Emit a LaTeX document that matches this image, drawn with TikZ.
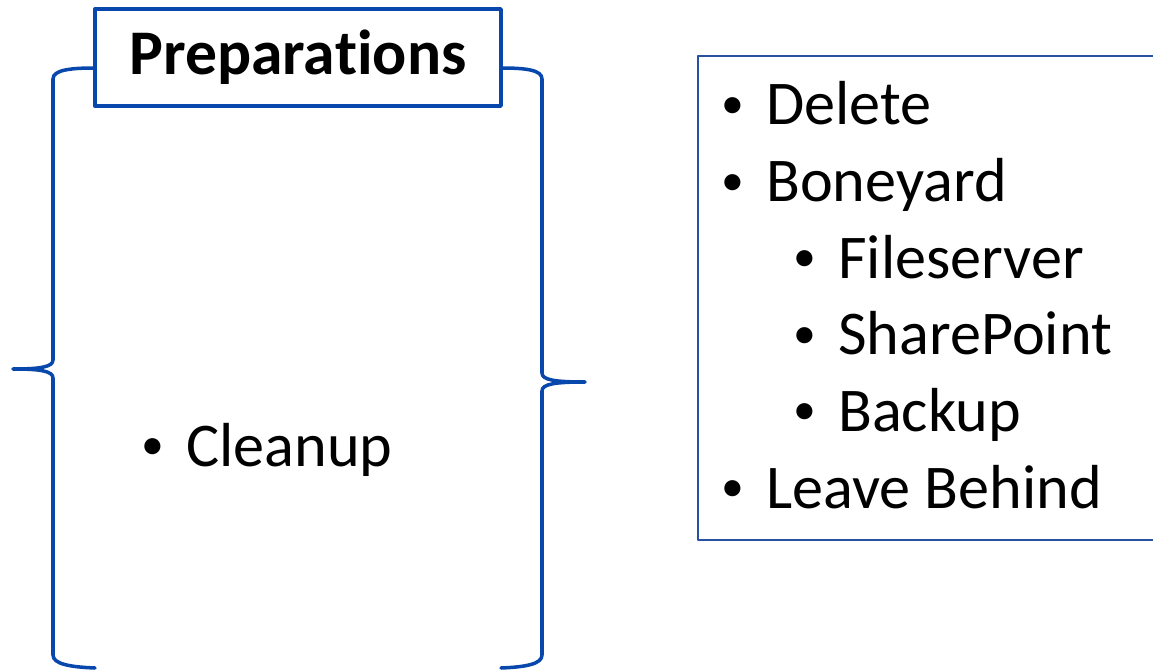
\documentclass[tikz,border=0pt]{standalone}
\usepackage{fontspec}
\setmainfont{Carlito}[Ligatures=NoCommon,RawFeature={-liga;-clig;-calt;-dlig}]
\usepackage{xcolor}
\definecolor{braceblue}{RGB}{8,72,172}
\definecolor{frameblue}{RGB}{40,82,160}
\newcommand{\blt}[1]{\makebox[0.9cm][l]{\raisebox{0.13cm}{\fontsize{26}{26}\selectfont\textbullet}}#1}

\begin{document}
\begin{tikzpicture}[line cap=round,line join=round,x=0.02cm,y=-0.02cm,
    big/.style={font=\fontsize{35.4}{42}\selectfont,inner sep=0pt,anchor=base west},
    titlebox/.style={draw=braceblue,line width=2pt,minimum width=8.12cm,minimum height=1.94cm,
        font=\fontsize{36.2}{42}\selectfont\bfseries,inner sep=0pt}]

    \useasboundingbox (0,0) rectangle (1153,672);

	% title box and brackets
    \node[titlebox] (prep) at (298,57.5) {Prepara\kern0pt tions};

    \draw [line width=2pt,color=braceblue] (95,68) .. controls (70,68) and (53,70) .. (53,79) -- (53,360)
        .. controls (53,367) and (40,369) .. (13,369) .. controls (40,369) and (53,371) .. (53,378)
        -- (53,655) .. controls (53,664) and (70,667) .. (95,668);
    \draw [line width=2pt,color=braceblue] (501,68) .. controls (526,68) and (542,70) .. (542,79) -- (542,373)
        .. controls (542,380) and (555,382) .. (585,382) .. controls (555,382) and (542,384) .. (542,391)
        -- (542,655) .. controls (542,664) and (526,667) .. (501,668);

    \node[big] (cleanup) at (141,466) {\blt{Cleanup}};

	% list on the right
    \draw [line width=0.9pt,color=frameblue] (1153,56) -| (698,540) -- (1153,540);

    \node[big] (delete) at (721,125) {\blt{Delete}};
    \node[big] (boneyard) at (721,202) {\blt{Boneyard}};
    \node[big] (fileserver) at (793,278) {\blt{Fileserver}};
    \node[big] (sharepoint) at (793,355) {\blt{SharePoint}};
    \node[big] (backup) at (793,431) {\blt{Backup}};
    \node[big] (leave) at (721,508) {\blt{Leave Behind}};
\end{tikzpicture}
\end{document}
